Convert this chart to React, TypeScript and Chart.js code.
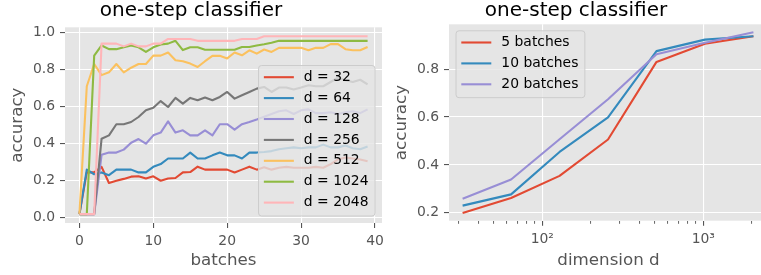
import React, { useEffect, useRef } from 'react';
import { Chart, registerables } from 'chart.js';

Chart.register(...registerables);

const FONT = '"DejaVu Sans", sans-serif';

// ---------- left chart data ----------
const batches = [0, 1, 2, 3, 4, 5, 6, 7, 8, 9, 10, 11, 12, 13, 14, 15, 16, 17, 18, 19, 20, 21, 22, 23, 24, 25, 26, 27, 28, 29, 30, 31, 32, 33, 34, 35, 36, 37, 38, 39];
const accD32 = [0.02, 0.245, 0.245, 0.275, 0.188, 0.2, 0.21, 0.222, 0.224, 0.212, 0.224, 0.2, 0.212, 0.215, 0.245, 0.247, 0.276, 0.26, 0.26, 0.26, 0.26, 0.245, 0.26, 0.276, 0.26, 0.273, 0.26, 0.27, 0.275, 0.27, 0.27, 0.27, 0.275, 0.27, 0.29, 0.315, 0.325, 0.32, 0.315, 0.305];
const accD64 = [0.02, 0.26, 0.235, 0.245, 0.23, 0.26, 0.26, 0.26, 0.245, 0.245, 0.275, 0.29, 0.32, 0.32, 0.32, 0.352, 0.32, 0.32, 0.337, 0.352, 0.337, 0.337, 0.32, 0.352, 0.352, 0.355, 0.36, 0.37, 0.375, 0.38, 0.375, 0.38, 0.38, 0.395, 0.38, 0.38, 0.39, 0.375, 0.37, 0.385];
const accD128 = [0.02, 0.02, 0.02, 0.34, 0.352, 0.352, 0.368, 0.405, 0.425, 0.4, 0.445, 0.46, 0.52, 0.46, 0.472, 0.445, 0.445, 0.472, 0.445, 0.505, 0.505, 0.476, 0.505, 0.517, 0.53, 0.545, 0.56, 0.575, 0.58, 0.56, 0.58, 0.585, 0.565, 0.565, 0.57, 0.56, 0.57, 0.575, 0.565, 0.585];
const accD256 = [0.02, 0.02, 0.02, 0.427, 0.445, 0.505, 0.505, 0.517, 0.544, 0.58, 0.594, 0.63, 0.598, 0.647, 0.616, 0.647, 0.634, 0.649, 0.634, 0.652, 0.679, 0.643, 0.661, 0.679, 0.697, 0.706, 0.679, 0.703, 0.703, 0.692, 0.703, 0.715, 0.71, 0.71, 0.733, 0.757, 0.742, 0.733, 0.745, 0.72];
const accD512 = [0.02, 0.71, 0.83, 0.77, 0.785, 0.83, 0.785, 0.81, 0.83, 0.83, 0.875, 0.875, 0.892, 0.85, 0.845, 0.832, 0.814, 0.845, 0.874, 0.874, 0.86, 0.892, 0.877, 0.904, 0.886, 0.908, 0.895, 0.917, 0.917, 0.917, 0.917, 0.904, 0.917, 0.917, 0.937, 0.937, 0.91, 0.904, 0.904, 0.922];
const accD1024 = [0.02, 0.02, 0.875, 0.93, 0.91, 0.91, 0.92, 0.93, 0.92, 0.895, 0.92, 0.935, 0.94, 0.955, 0.905, 0.92, 0.92, 0.907, 0.907, 0.907, 0.907, 0.907, 0.922, 0.922, 0.93, 0.937, 0.945, 0.955, 0.955, 0.955, 0.955, 0.955, 0.955, 0.955, 0.955, 0.955, 0.955, 0.955, 0.955, 0.955];
const accD2048 = [0.02, 0.02, 0.02, 0.94, 0.94, 0.94, 0.925, 0.94, 0.925, 0.925, 0.94, 0.94, 0.965, 0.965, 0.965, 0.965, 0.955, 0.955, 0.955, 0.955, 0.955, 0.955, 0.965, 0.965, 0.965, 0.98, 0.98, 0.98, 0.98, 0.98, 0.98, 0.98, 0.98, 0.98, 0.98, 0.98, 0.98, 0.98, 0.98, 0.98];
const leftLabels = ['d = 32', 'd = 64', 'd = 128', 'd = 256', 'd = 512', 'd = 1024', 'd = 2048'];
const leftXTicks = [0, 10, 20, 30, 40];
const leftYTicks = [0, 0.2, 0.4, 0.6, 0.8, 1.0];

// ---------- right chart data ----------
const dims = [32, 64, 128, 256, 512, 1024, 2048];
const acc5 = [0.199, 0.262, 0.354, 0.506, 0.83, 0.906, 0.937];
const acc10 = [0.23, 0.277, 0.454, 0.598, 0.875, 0.923, 0.937];
const acc20 = [0.259, 0.339, 0.507, 0.674, 0.862, 0.91, 0.954];
const rightLabels = ['5 batches', '10 batches', '20 batches'];
const rightXTicks = [30, 40, 50, 60, 70, 80, 90, 100, 200, 300, 400, 500, 600, 700, 800, 900, 1000, 2000];
const rightXMajor = [100, 1000];
const rightXMajorLabels = ['10²', '10³'];
const rightYTicks = [0.2, 0.4, 0.6, 0.8];

const COLORS = ['#E24A33', '#348ABD', '#988ED5', '#777777', '#FBC15E', '#8EBA42', '#FFB5B8'];

const bgPlugin = {
  id: 'plotBg',
  beforeDraw(chart: any) {
    const { ctx, chartArea } = chart;
    ctx.save();
    ctx.fillStyle = '#E5E5E5';
    ctx.fillRect(chartArea.left, chartArea.top, chartArea.right - chartArea.left, chartArea.bottom - chartArea.top);
    ctx.restore();
  },
};

const boxLegendPlugin = {
  id: 'boxLegend',
  afterDatasetsDraw(chart: any, _args: any, opts: any) {
    const { ctx, chartArea } = chart;
    const ds = chart.data.datasets;
    ctx.save();
    ctx.font = `13.9px ${FONT}`;
    let textW = 0;
    ds.forEach((d: any) => { textW = Math.max(textW, ctx.measureText(d.label).width); });
    const w = 45.3 + textW + 6.5;
    const rowH = 20.9;
    const h = 4.2 + rowH * ds.length;
    const x = opts.anchor === 'br' ? chartArea.right - 7 - w : chartArea.left + 7;
    const y = opts.anchor === 'br' ? chartArea.bottom - 7 - h : chartArea.top + 6.5;
    const r = 3;
    ctx.beginPath();
    ctx.moveTo(x + r, y);
    ctx.lineTo(x + w - r, y);
    ctx.arcTo(x + w, y, x + w, y + r, r);
    ctx.lineTo(x + w, y + h - r);
    ctx.arcTo(x + w, y + h, x + w - r, y + h, r);
    ctx.lineTo(x + r, y + h);
    ctx.arcTo(x, y + h, x, y + h - r, r);
    ctx.lineTo(x, y + r);
    ctx.arcTo(x, y, x + r, y, r);
    ctx.closePath();
    ctx.fillStyle = 'rgba(229,229,229,0.8)';
    ctx.fill();
    ctx.strokeStyle = '#CCCCCC';
    ctx.lineWidth = 1;
    ctx.stroke();
    ds.forEach((d: any, i: number) => {
      const cy = y + 11.7 + rowH * i;
      ctx.beginPath();
      ctx.moveTo(x + 5.3, cy);
      ctx.lineTo(x + 35.3, cy);
      ctx.strokeStyle = d.borderColor;
      ctx.lineWidth = 2.1;
      ctx.stroke();
      ctx.fillStyle = '#000000';
      ctx.textBaseline = 'middle';
      ctx.textAlign = 'left';
      ctx.fillText(d.label, x + 45.3, cy);
    });
    ctx.restore();
  },
};

const tickFont = { family: FONT, size: 13.9 };
const labelFont = { family: FONT, size: 16.7, lineHeight: 1.2 };
const titleFont = { family: FONT, size: 20, weight: 'normal' as const, lineHeight: 1 };

function lineDataset(label: string, xs: number[], ys: number[], i: number, n: number) {
  return {
    label,
    data: ys.map((v, k) => ({ x: xs[k], y: v })),
    borderColor: COLORS[i],
    backgroundColor: COLORS[i],
    borderWidth: 2.1,
    pointRadius: 0,
    tension: 0,
    fill: false,
    borderJoinStyle: 'round' as const,
    order: n - i,
  };
}

function LeftChart() {
  const ref = useRef<HTMLCanvasElement>(null);
  useEffect(() => {
    const series = [accD32, accD64, accD128, accD256, accD512, accD1024, accD2048];
    const chart = new Chart(ref.current!, {
      type: 'line',
      data: {
        datasets: series.map((s, i) => lineDataset(leftLabels[i], batches, s, i, series.length)),
      },
      options: {
        animation: false,
        responsive: false,
        events: [],
        layout: { padding: { left: 0, right: 10, top: 0, bottom: 0 } },
        plugins: {
          legend: { display: false },
          tooltip: { enabled: false },
          title: {
            display: true,
            text: 'one-step classifier',
            color: '#000000',
            font: titleFont,
            padding: { top: 0.6, bottom: 6.7 },
          },
          boxLegend: { anchor: 'br' },
        } as any,
        scales: {
          x: {
            type: 'linear',
            min: -1.95,
            max: 40.95,
            bounds: 'data',
            afterBuildTicks: (s: any) => { s.ticks = leftXTicks.map((v) => ({ value: v })); },
            afterFit: (s: any) => { s.height = 52; },
            grid: { color: '#FFFFFF', lineWidth: 1.1, tickColor: '#555555', tickLength: 5, tickWidth: 1.1 },
            border: { display: false },
            ticks: { color: '#555555', font: tickFont, padding: 5, maxRotation: 0, minRotation: 0, autoSkip: false, callback: (v: any) => String(v) },
            title: { display: true, text: 'batches', color: '#555555', font: labelFont, padding: { top: 0, bottom: 4.1 } },
          },
          y: {
            type: 'linear',
            min: -0.028,
            max: 1.028,
            bounds: 'data',
            afterBuildTicks: (s: any) => { s.ticks = leftYTicks.map((v) => ({ value: v })); },
            afterFit: (s: any) => { s.width = 65; },
            grid: { color: '#FFFFFF', lineWidth: 1.1, tickColor: '#555555', tickLength: 5, tickWidth: 1.1 },
            border: { display: false },
            ticks: { color: '#555555', font: tickFont, padding: 5, autoSkip: false, callback: (v: any) => Number(v).toFixed(1) },
            title: { display: true, text: 'accuracy', color: '#555555', font: labelFont, padding: { top: 7.7, bottom: 0 } },
          },
        },
      } as any,
      plugins: [bgPlugin, boxLegendPlugin],
    });
    return () => chart.destroy();
  }, []);
  return <canvas ref={ref} width={392} height={275} style={{ position: 'absolute', left: 0, top: 0 }} />;
}

function RightChart() {
  const ref = useRef<HTMLCanvasElement>(null);
  useEffect(() => {
    const series = [acc5, acc10, acc20];
    const chart = new Chart(ref.current!, {
      type: 'line',
      data: {
        datasets: series.map((s, i) => lineDataset(rightLabels[i], dims, s, i, series.length)),
      },
      options: {
        animation: false,
        responsive: false,
        events: [],
        layout: { padding: { left: 0, right: 0, top: 0, bottom: 0 } },
        plugins: {
          legend: { display: false },
          tooltip: { enabled: false },
          title: {
            display: true,
            text: 'one-step classifier',
            color: '#000000',
            font: titleFont,
            padding: { top: 0.6, bottom: 3.7 },
          },
          boxLegend: { anchor: 'tl' },
        } as any,
        scales: {
          x: {
            type: 'logarithmic',
            min: 26.34,
            max: 2523,
            bounds: 'data',
            afterBuildTicks: (s: any) => { s.ticks = rightXTicks.map((v) => ({ value: v })); },
            afterFit: (s: any) => { s.height = 54.3; },
            grid: {
              color: (c: any) => (c.tick && rightXMajor.includes(c.tick.value) ? '#FFFFFF' : 'rgba(0,0,0,0)'),
              lineWidth: 1.1,
              tickColor: '#555555',
              tickLength: 5,
              tickWidth: (c: any) => (c.tick && rightXMajor.includes(c.tick.value) ? 1.1 : 0.9),
              tickBorderDash: (c: any) => (c.tick && rightXMajor.includes(c.tick.value) ? [] : [2.8, 100]),
            },
            border: { display: false },
            ticks: {
              color: '#555555',
              font: tickFont,
              padding: 5.7,
              maxRotation: 0,
              minRotation: 0,
              autoSkip: false,
              callback: (v: any) => {
                const k = rightXMajor.indexOf(Number(v));
                return k >= 0 ? rightXMajorLabels[k] : '';
              },
            },
            title: { display: true, text: 'dimension d', color: '#555555', font: labelFont, padding: { top: 0, bottom: 4.1 } },
          },
          y: {
            type: 'linear',
            min: 0.167,
            max: 0.987,
            bounds: 'data',
            afterBuildTicks: (s: any) => { s.ticks = rightYTicks.map((v) => ({ value: v })); },
            afterFit: (s: any) => { s.width = 65; },
            grid: { color: '#FFFFFF', lineWidth: 1.1, tickColor: '#555555', tickLength: 5, tickWidth: 1.1 },
            border: { display: false },
            ticks: { color: '#555555', font: tickFont, padding: 5, autoSkip: false, callback: (v: any) => Number(v).toFixed(1) },
            title: { display: true, text: 'accuracy', color: '#555555', font: labelFont, padding: { top: 7.7, bottom: 0 } },
          },
        },
      } as any,
      plugins: [bgPlugin, boxLegendPlugin],
    });
    return () => chart.destroy();
  }, []);
  return <canvas ref={ref} width={384} height={275} style={{ position: 'absolute', left: 384, top: 0 }} />;
}

export default function App() {
  useEffect(() => {
    document.body.style.margin = '0';
  }, []);
  return (
    <div style={{ position: 'absolute', left: 0, top: 0, width: 761, height: 275, overflow: 'hidden', background: '#FFFFFF' }}>
      <LeftChart />
      <RightChart />
    </div>
  );
}
